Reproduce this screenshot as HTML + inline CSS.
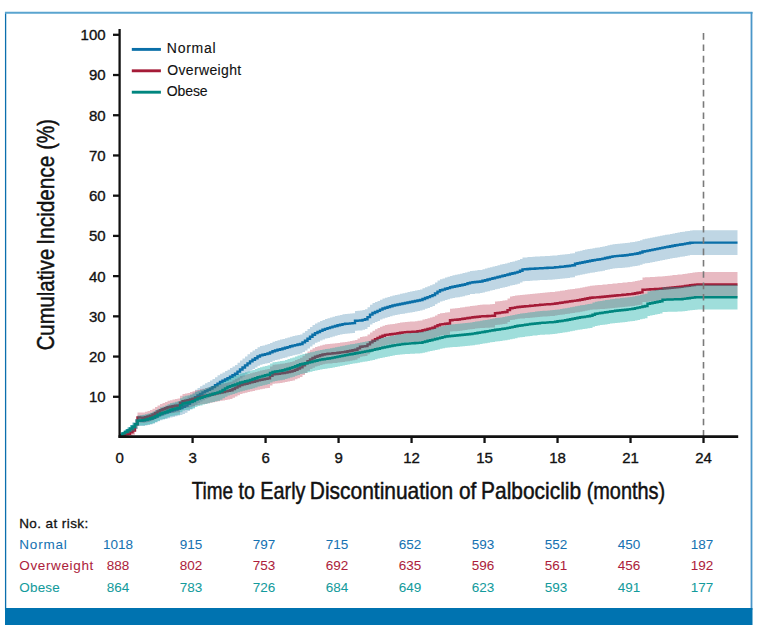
<!DOCTYPE html>
<html><head><meta charset="utf-8"><style>
html,body{margin:0;padding:0;background:#fff;}
body{width:768px;height:638px;overflow:hidden;position:relative;}
svg{position:absolute;left:0;top:0;}
text{font-family:"Liberation Sans",sans-serif;stroke:currentColor;}

</style></head><body>
<svg width="768" height="638" viewBox="0 0 768 638">
<rect x="0" y="0" width="768" height="638" fill="#fff"/>
<line x1="5.6" y1="12" x2="5.6" y2="610" stroke="#0b6fae" stroke-width="1.3"/>
<line x1="5" y1="12.8" x2="752.5" y2="12.8" stroke="#5aa4cf" stroke-width="1.9"/>
<line x1="751.5" y1="12" x2="751.5" y2="610" stroke="#4a96c9" stroke-width="1.8"/>
<rect x="5" y="608" width="747.5" height="17" fill="#0073b0"/>
<g>
<path class="band" d="M120.0,436.0 L122.5,436.0 L122.5,432.1 L125.0,432.1 L125.0,429.5 L127.5,429.5 L127.5,427.4 L130.0,427.4 L130.0,425.1 L132.5,425.1 L132.5,422.5 L135.0,422.5 L135.0,419.3 L137.5,419.3 L137.5,415.8 L140.0,415.8 L140.0,415.5 L142.5,415.5 L142.5,415.3 L145.0,415.3 L145.0,414.7 L147.5,414.7 L147.5,413.9 L150.0,413.9 L150.0,413.1 L152.5,413.1 L152.5,412.0 L155.0,412.0 L155.0,410.6 L157.5,410.6 L157.5,409.2 L160.0,409.2 L160.0,408.1 L162.5,408.1 L162.5,407.2 L165.0,407.2 L165.0,406.3 L167.5,406.3 L167.5,405.4 L170.0,405.4 L170.0,404.5 L172.5,404.5 L172.5,403.6 L175.0,403.6 L175.0,402.7 L177.5,402.7 L177.5,401.9 L180.0,401.9 L180.0,401.0 L182.5,401.0 L182.5,399.7 L185.0,399.7 L185.0,398.5 L187.5,398.5 L187.5,396.6 L190.0,396.6 L190.0,394.7 L192.5,394.7 L192.5,392.5 L195.0,392.5 L195.0,389.8 L197.5,389.8 L197.5,387.9 L200.0,387.9 L200.0,386.3 L202.5,386.3 L202.5,384.7 L205.0,384.7 L205.0,383.3 L207.5,383.3 L207.5,382.0 L210.0,382.0 L210.0,380.6 L212.5,380.6 L212.5,379.0 L215.0,379.0 L215.0,377.2 L217.5,377.2 L217.5,375.3 L220.0,375.3 L220.0,373.7 L222.5,373.7 L222.5,372.4 L225.0,372.4 L225.0,371.1 L227.5,371.1 L227.5,369.7 L230.0,369.7 L230.0,368.1 L232.5,368.1 L232.5,366.6 L235.0,366.6 L235.0,364.9 L237.5,364.9 L237.5,362.8 L240.0,362.8 L240.0,360.6 L242.5,360.6 L242.5,358.5 L245.0,358.5 L245.0,356.4 L247.5,356.4 L247.5,354.3 L250.0,354.3 L250.0,352.3 L252.5,352.3 L252.5,350.6 L255.0,350.6 L255.0,349.0 L257.5,349.0 L257.5,347.3 L260.0,347.3 L260.0,346.1 L262.5,346.1 L262.5,345.4 L265.0,345.4 L265.0,344.7 L267.5,344.7 L267.5,344.0 L270.0,344.0 L270.0,342.9 L272.5,342.9 L272.5,341.7 L275.0,341.7 L275.0,340.9 L277.5,340.9 L277.5,340.3 L280.0,340.3 L280.0,339.6 L282.5,339.6 L282.5,339.0 L285.0,339.0 L285.0,338.2 L287.5,338.2 L287.5,337.5 L290.0,337.5 L290.0,336.7 L292.5,336.7 L292.5,336.0 L295.0,336.0 L295.0,335.5 L297.5,335.5 L297.5,334.9 L300.0,334.9 L300.0,334.4 L302.5,334.4 L302.5,332.7 L305.0,332.7 L305.0,331.1 L307.5,331.1 L307.5,329.1 L310.0,329.1 L310.0,327.1 L312.5,327.1 L312.5,325.1 L315.0,325.1 L315.0,323.4 L317.5,323.4 L317.5,322.2 L320.0,322.2 L320.0,321.1 L322.5,321.1 L322.5,320.0 L325.0,320.0 L325.0,319.1 L327.5,319.1 L327.5,318.3 L330.0,318.3 L330.0,317.6 L332.5,317.6 L332.5,316.8 L335.0,316.8 L335.0,316.1 L337.5,316.1 L337.5,315.5 L340.0,315.5 L340.0,314.9 L342.5,314.9 L342.5,314.2 L345.0,314.2 L345.0,314.0 L347.5,314.0 L347.5,313.7 L350.0,313.7 L350.0,313.5 L352.5,313.5 L352.5,313.2 L355.0,313.2 L355.0,310.9 L357.5,310.9 L357.5,310.7 L360.0,310.7 L360.0,310.6 L362.5,310.6 L362.5,310.0 L365.0,310.0 L365.0,309.3 L367.5,309.3 L367.5,307.2 L370.0,307.2 L370.0,304.7 L372.5,304.7 L372.5,303.1 L375.0,303.1 L375.0,302.1 L377.5,302.1 L377.5,300.9 L380.0,300.9 L380.0,299.7 L382.5,299.7 L382.5,298.6 L385.0,298.6 L385.0,297.8 L387.5,297.8 L387.5,297.0 L390.0,297.0 L390.0,296.3 L392.5,296.3 L392.5,295.5 L395.0,295.5 L395.0,294.9 L397.5,294.9 L397.5,294.4 L400.0,294.4 L400.0,293.8 L402.5,293.8 L402.5,293.3 L405.0,293.3 L405.0,292.7 L407.5,292.7 L407.5,292.1 L410.0,292.1 L410.0,291.6 L412.5,291.6 L412.5,291.0 L415.0,291.0 L415.0,290.5 L417.5,290.5 L417.5,289.9 L420.0,289.9 L420.0,289.4 L422.5,289.4 L422.5,288.3 L425.0,288.3 L425.0,287.3 L427.5,287.3 L427.5,286.3 L430.0,286.3 L430.0,285.2 L432.5,285.2 L432.5,284.2 L435.0,284.2 L435.0,282.4 L437.5,282.4 L437.5,280.6 L440.0,280.6 L440.0,279.2 L442.5,279.2 L442.5,278.4 L445.0,278.4 L445.0,277.6 L447.5,277.6 L447.5,276.8 L450.0,276.8 L450.0,276.0 L452.5,276.0 L452.5,275.3 L455.0,275.3 L455.0,274.7 L457.5,274.7 L457.5,274.2 L460.0,274.2 L460.0,273.7 L462.5,273.7 L462.5,273.1 L465.0,273.1 L465.0,272.5 L467.5,272.5 L467.5,271.8 L470.0,271.8 L470.0,271.0 L472.5,271.0 L472.5,270.7 L475.0,270.7 L475.0,270.4 L477.5,270.4 L477.5,270.1 L480.0,270.1 L480.0,269.9 L482.5,269.9 L482.5,269.2 L485.0,269.2 L485.0,268.5 L487.5,268.5 L487.5,267.8 L490.0,267.8 L490.0,267.2 L492.5,267.2 L492.5,266.5 L495.0,266.5 L495.0,265.9 L497.5,265.9 L497.5,265.2 L500.0,265.2 L500.0,264.6 L502.5,264.6 L502.5,264.0 L505.0,264.0 L505.0,263.4 L507.5,263.4 L507.5,262.7 L510.0,262.7 L510.0,262.0 L512.5,262.0 L512.5,261.4 L515.0,261.4 L515.0,260.7 L517.5,260.7 L517.5,260.1 L520.0,260.1 L520.0,258.9 L522.5,258.9 L522.5,257.6 L525.0,257.6 L525.0,257.4 L527.5,257.4 L527.5,257.1 L530.0,257.1 L530.0,256.9 L532.5,256.9 L532.5,256.8 L535.0,256.8 L535.0,256.6 L537.5,256.6 L537.5,256.5 L540.0,256.5 L540.0,256.3 L542.5,256.3 L542.5,256.2 L545.0,256.2 L545.0,256.0 L547.5,256.0 L547.5,255.9 L550.0,255.9 L550.0,255.8 L552.5,255.8 L552.5,255.6 L555.0,255.6 L555.0,255.4 L557.5,255.4 L557.5,255.1 L560.0,255.1 L560.0,254.8 L562.5,254.8 L562.5,254.6 L565.0,254.6 L565.0,254.3 L567.5,254.3 L567.5,254.0 L570.0,254.0 L570.0,253.6 L572.5,253.6 L572.5,253.3 L575.0,253.3 L575.0,251.8 L577.5,251.8 L577.5,251.2 L580.0,251.2 L580.0,250.7 L582.5,250.7 L582.5,250.1 L585.0,250.1 L585.0,249.6 L587.5,249.6 L587.5,249.1 L590.0,249.1 L590.0,248.7 L592.5,248.7 L592.5,248.2 L595.0,248.2 L595.0,247.8 L597.5,247.8 L597.5,247.4 L600.0,247.4 L600.0,247.0 L602.5,247.0 L602.5,246.4 L605.0,246.4 L605.0,245.9 L607.5,245.9 L607.5,245.3 L610.0,245.3 L610.0,244.8 L612.5,244.8 L612.5,244.2 L615.0,244.2 L615.0,243.9 L617.5,243.9 L617.5,243.7 L620.0,243.7 L620.0,243.5 L622.5,243.5 L622.5,243.3 L625.0,243.3 L625.0,243.1 L627.5,243.1 L627.5,242.7 L630.0,242.7 L630.0,242.3 L632.5,242.3 L632.5,241.9 L635.0,241.9 L635.0,241.4 L637.5,241.4 L637.5,241.0 L640.0,241.0 L640.0,240.3 L642.5,240.3 L642.5,239.3 L645.0,239.3 L645.0,238.8 L647.5,238.8 L647.5,238.3 L650.0,238.3 L650.0,237.8 L652.5,237.8 L652.5,237.3 L655.0,237.3 L655.0,236.8 L657.5,236.8 L657.5,236.3 L660.0,236.3 L660.0,235.8 L662.5,235.8 L662.5,235.3 L665.0,235.3 L665.0,234.8 L667.5,234.8 L667.5,234.4 L670.0,234.4 L670.0,233.9 L672.5,233.9 L672.5,233.5 L675.0,233.5 L675.0,233.0 L677.5,233.0 L677.5,232.6 L680.0,232.6 L680.0,232.1 L682.5,232.1 L682.5,231.7 L685.0,231.7 L685.0,231.3 L687.5,231.3 L687.5,230.9 L690.0,230.9 L690.0,230.4 L692.5,230.4 L692.5,230.3 L695.0,230.3 L695.0,230.2 L697.5,230.2 L697.5,230.2 L700.0,230.2 L700.0,230.2 L702.5,230.2 L702.5,230.2 L705.0,230.2 L705.0,230.2 L707.5,230.2 L707.5,230.2 L710.0,230.2 L710.0,230.2 L712.5,230.2 L712.5,230.2 L715.0,230.2 L715.0,230.2 L717.5,230.2 L717.5,230.2 L720.0,230.2 L720.0,230.2 L722.5,230.2 L722.5,230.2 L725.0,230.2 L725.0,230.2 L727.5,230.2 L727.5,230.2 L730.0,230.2 L730.0,230.2 L732.5,230.2 L732.5,230.2 L735.0,230.2 L735.0,230.2 L737.5,230.2 L737.5,230.2 L737.5,255.0 L737.5,255.0 L735.0,255.0 L735.0,255.0 L732.5,255.0 L732.5,255.0 L730.0,255.0 L730.0,255.0 L727.5,255.0 L727.5,255.0 L725.0,255.0 L725.0,255.0 L722.5,255.0 L722.5,255.0 L720.0,255.0 L720.0,255.0 L717.5,255.0 L717.5,255.0 L715.0,255.0 L715.0,255.0 L712.5,255.0 L712.5,255.0 L710.0,255.0 L710.0,255.0 L707.5,255.0 L707.5,255.0 L705.0,255.0 L705.0,255.0 L702.5,255.0 L702.5,255.0 L700.0,255.0 L700.0,255.0 L697.5,255.0 L697.5,255.0 L695.0,255.0 L695.0,254.9 L692.5,254.9 L692.5,255.1 L690.0,255.1 L690.0,255.6 L687.5,255.6 L687.5,256.0 L685.0,256.0 L685.0,256.4 L682.5,256.4 L682.5,256.8 L680.0,256.8 L680.0,257.2 L677.5,257.2 L677.5,257.7 L675.0,257.7 L675.0,258.1 L672.5,258.1 L672.5,258.6 L670.0,258.6 L670.0,259.0 L667.5,259.0 L667.5,259.4 L665.0,259.4 L665.0,259.9 L662.5,259.9 L662.5,260.4 L660.0,260.4 L660.0,260.9 L657.5,260.9 L657.5,261.4 L655.0,261.4 L655.0,261.9 L652.5,261.9 L652.5,262.4 L650.0,262.4 L650.0,262.9 L647.5,262.9 L647.5,263.3 L645.0,263.3 L645.0,263.8 L642.5,263.8 L642.5,264.8 L640.0,264.8 L640.0,265.5 L637.5,265.5 L637.5,265.9 L635.0,265.9 L635.0,266.3 L632.5,266.3 L632.5,266.7 L630.0,266.7 L630.0,267.2 L627.5,267.2 L627.5,267.5 L625.0,267.5 L625.0,267.7 L622.5,267.7 L622.5,267.9 L620.0,267.9 L620.0,268.1 L617.5,268.1 L617.5,268.3 L615.0,268.3 L615.0,268.5 L612.5,268.5 L612.5,269.1 L610.0,269.1 L610.0,269.6 L607.5,269.6 L607.5,270.1 L605.0,270.1 L605.0,270.7 L602.5,270.7 L602.5,271.2 L600.0,271.2 L600.0,271.6 L597.5,271.6 L597.5,272.0 L595.0,272.0 L595.0,272.4 L592.5,272.4 L592.5,272.8 L590.0,272.8 L590.0,273.3 L587.5,273.3 L587.5,273.8 L585.0,273.8 L585.0,274.3 L582.5,274.3 L582.5,274.8 L580.0,274.8 L580.0,275.3 L577.5,275.3 L577.5,275.8 L575.0,275.8 L575.0,277.3 L572.5,277.3 L572.5,277.6 L570.0,277.6 L570.0,278.0 L567.5,278.0 L567.5,278.3 L565.0,278.3 L565.0,278.6 L562.5,278.6 L562.5,278.8 L560.0,278.8 L560.0,279.1 L557.5,279.1 L557.5,279.3 L555.0,279.3 L555.0,279.6 L552.5,279.6 L552.5,279.7 L550.0,279.7 L550.0,279.8 L547.5,279.8 L547.5,279.9 L545.0,279.9 L545.0,280.0 L542.5,280.0 L542.5,280.1 L540.0,280.1 L540.0,280.3 L537.5,280.3 L537.5,280.4 L535.0,280.4 L535.0,280.5 L532.5,280.5 L532.5,280.7 L530.0,280.7 L530.0,280.9 L527.5,280.9 L527.5,281.1 L525.0,281.1 L525.0,281.3 L522.5,281.3 L522.5,282.5 L520.0,282.5 L520.0,283.8 L517.5,283.8 L517.5,284.4 L515.0,284.4 L515.0,285.0 L512.5,285.0 L512.5,285.6 L510.0,285.6 L510.0,286.3 L507.5,286.3 L507.5,286.9 L505.0,286.9 L505.0,287.5 L502.5,287.5 L502.5,288.1 L500.0,288.1 L500.0,288.7 L497.5,288.7 L497.5,289.3 L495.0,289.3 L495.0,289.9 L492.5,289.9 L492.5,290.5 L490.0,290.5 L490.0,291.2 L487.5,291.2 L487.5,291.8 L485.0,291.8 L485.0,292.5 L482.5,292.5 L482.5,293.1 L480.0,293.1 L480.0,293.4 L477.5,293.4 L477.5,293.6 L475.0,293.6 L475.0,293.9 L472.5,293.9 L472.5,294.1 L470.0,294.1 L470.0,294.9 L467.5,294.9 L467.5,295.6 L465.0,295.6 L465.0,296.2 L462.5,296.2 L462.5,296.7 L460.0,296.7 L460.0,297.2 L457.5,297.2 L457.5,297.6 L455.0,297.6 L455.0,298.1 L452.5,298.1 L452.5,298.6 L450.0,298.6 L450.0,299.3 L447.5,299.3 L447.5,300.0 L445.0,300.0 L445.0,300.7 L442.5,300.7 L442.5,301.4 L440.0,301.4 L440.0,302.7 L437.5,302.7 L437.5,304.3 L435.0,304.3 L435.0,306.0 L432.5,306.0 L432.5,306.9 L430.0,306.9 L430.0,307.9 L427.5,307.9 L427.5,308.8 L425.0,308.8 L425.0,309.7 L422.5,309.7 L422.5,310.6 L420.0,310.6 L420.0,311.1 L417.5,311.1 L417.5,311.5 L415.0,311.5 L415.0,311.9 L412.5,311.9 L412.5,312.4 L410.0,312.4 L410.0,312.8 L407.5,312.8 L407.5,313.3 L405.0,313.3 L405.0,313.7 L402.5,313.7 L402.5,314.1 L400.0,314.1 L400.0,314.6 L397.5,314.6 L397.5,315.0 L395.0,315.0 L395.0,315.5 L392.5,315.5 L392.5,316.3 L390.0,316.3 L390.0,317.0 L387.5,317.0 L387.5,317.7 L385.0,317.7 L385.0,318.5 L382.5,318.5 L382.5,319.6 L380.0,319.6 L380.0,320.9 L377.5,320.9 L377.5,321.9 L375.0,321.9 L375.0,322.9 L372.5,322.9 L372.5,324.5 L370.0,324.5 L370.0,327.0 L367.5,327.0 L367.5,329.1 L365.0,329.1 L365.0,329.8 L362.5,329.8 L362.5,330.4 L360.0,330.4 L360.0,330.5 L357.5,330.5 L357.5,330.7 L355.0,330.7 L355.0,333.0 L352.5,333.0 L352.5,333.2 L350.0,333.2 L350.0,333.4 L347.5,333.4 L347.5,333.7 L345.0,333.7 L345.0,333.9 L342.5,333.9 L342.5,334.5 L340.0,334.5 L340.0,335.1 L337.5,335.1 L337.5,335.8 L335.0,335.8 L335.0,336.4 L332.5,336.4 L332.5,337.2 L330.0,337.2 L330.0,337.9 L327.5,337.9 L327.5,338.6 L325.0,338.6 L325.0,339.5 L322.5,339.5 L322.5,340.6 L320.0,340.6 L320.0,341.7 L317.5,341.7 L317.5,342.8 L315.0,342.8 L315.0,344.5 L312.5,344.5 L312.5,346.5 L310.0,346.5 L310.0,348.5 L307.5,348.5 L307.5,350.4 L305.0,350.4 L305.0,352.1 L302.5,352.1 L302.5,353.6 L300.0,353.6 L300.0,354.2 L297.5,354.2 L297.5,354.7 L295.0,354.7 L295.0,355.2 L292.5,355.2 L292.5,355.9 L290.0,355.9 L290.0,356.6 L287.5,356.6 L287.5,357.4 L285.0,357.4 L285.0,358.1 L282.5,358.1 L282.5,358.7 L280.0,358.7 L280.0,359.4 L277.5,359.4 L277.5,360.0 L275.0,360.0 L275.0,360.7 L272.5,360.7 L272.5,361.9 L270.0,361.9 L270.0,362.9 L267.5,362.9 L267.5,363.5 L265.0,363.5 L265.0,364.1 L262.5,364.1 L262.5,364.7 L260.0,364.7 L260.0,365.8 L257.5,365.8 L257.5,367.4 L255.0,367.4 L255.0,368.9 L252.5,368.9 L252.5,370.5 L250.0,370.5 L250.0,372.4 L247.5,372.4 L247.5,374.4 L245.0,374.4 L245.0,376.4 L242.5,376.4 L242.5,378.4 L240.0,378.4 L240.0,380.5 L237.5,380.5 L237.5,382.5 L235.0,382.5 L235.0,384.0 L232.5,384.0 L232.5,385.4 L230.0,385.4 L230.0,386.8 L227.5,386.8 L227.5,388.0 L225.0,388.0 L225.0,389.2 L222.5,389.2 L222.5,390.3 L220.0,390.3 L220.0,391.8 L217.5,391.8 L217.5,393.5 L215.0,393.5 L215.0,395.2 L212.5,395.2 L212.5,396.6 L210.0,396.6 L210.0,397.8 L207.5,397.8 L207.5,398.9 L205.0,398.9 L205.0,400.2 L202.5,400.2 L202.5,401.6 L200.0,401.6 L200.0,403.0 L197.5,403.0 L197.5,404.7 L195.0,404.7 L195.0,407.4 L192.5,407.4 L192.5,409.3 L190.0,409.3 L190.0,411.1 L187.5,411.1 L187.5,412.8 L185.0,412.8 L185.0,413.9 L182.5,413.9 L182.5,415.0 L180.0,415.0 L180.0,415.6 L177.5,415.6 L177.5,416.3 L175.0,416.3 L175.0,417.0 L172.5,417.0 L172.5,417.6 L170.0,417.6 L170.0,418.3 L167.5,418.3 L167.5,419.0 L165.0,419.0 L165.0,419.6 L162.5,419.6 L162.5,420.3 L160.0,420.3 L160.0,421.3 L157.5,421.3 L157.5,422.4 L155.0,422.4 L155.0,423.5 L152.5,423.5 L152.5,424.4 L150.0,424.4 L150.0,425.0 L147.5,425.0 L147.5,425.5 L145.0,425.5 L145.0,425.9 L142.5,425.9 L142.5,425.9 L140.0,425.9 L140.0,426.0 L137.5,426.0 L137.5,428.9 L135.0,428.9 L135.0,430.9 L132.5,430.9 L132.5,432.3 L130.0,432.3 L130.0,433.5 L127.5,433.5 L127.5,434.4 L125.0,434.4 L125.0,435.5 L122.5,435.5 L122.5,436.0 L120.0,436.0 Z" fill="rgba(42,118,165,0.3)"/>
<path d="M120.0,436.0 H122.5 V433.8 H125.0 V431.9 H127.5 V430.5 H130.0 V428.7 H132.5 V426.7 H135.0 V424.1 H137.5 V420.9 H140.0 V420.7 H142.5 V420.6 H145.0 V420.1 H147.5 V419.4 H150.0 V418.8 H152.5 V417.8 H155.0 V416.5 H157.5 V415.2 H160.0 V414.2 H162.5 V413.4 H165.0 V412.6 H167.5 V411.8 H170.0 V411.1 H172.5 V410.3 H175.0 V409.5 H177.5 V408.8 H180.0 V408.0 H182.5 V406.8 H185.0 V405.6 H187.5 V403.9 H190.0 V402.0 H192.5 V400.0 H195.0 V397.2 H197.5 V395.5 H200.0 V393.9 H202.5 V392.4 H205.0 V391.1 H207.5 V389.9 H210.0 V388.6 H212.5 V387.1 H215.0 V385.3 H217.5 V383.6 H220.0 V382.0 H222.5 V380.8 H225.0 V379.5 H227.5 V378.2 H230.0 V376.8 H232.5 V375.3 H235.0 V373.7 H237.5 V371.6 H240.0 V369.5 H242.5 V367.5 H245.0 V365.4 H247.5 V363.4 H250.0 V361.4 H252.5 V359.8 H255.0 V358.2 H257.5 V356.5 H260.0 V355.4 H262.5 V354.8 H265.0 V354.1 H267.5 V353.5 H270.0 V352.4 H272.5 V351.2 H275.0 V350.5 H277.5 V349.8 H280.0 V349.2 H282.5 V348.5 H285.0 V347.8 H287.5 V347.1 H290.0 V346.3 H292.5 V345.6 H295.0 V345.1 H297.5 V344.5 H300.0 V344.0 H302.5 V342.4 H305.0 V340.8 H307.5 V338.8 H310.0 V336.8 H312.5 V334.8 H315.0 V333.1 H317.5 V332.0 H320.0 V330.9 H322.5 V329.7 H325.0 V328.9 H327.5 V328.1 H330.0 V327.4 H332.5 V326.6 H335.0 V326.0 H337.5 V325.3 H340.0 V324.7 H342.5 V324.1 H345.0 V323.8 H347.5 V323.6 H350.0 V323.4 H352.5 V323.1 H355.0 V320.8 H357.5 V320.6 H360.0 V320.5 H362.5 V319.9 H365.0 V319.2 H367.5 V317.1 H370.0 V314.6 H372.5 V313.0 H375.0 V312.0 H377.5 V310.9 H380.0 V309.6 H382.5 V308.5 H385.0 V307.8 H387.5 V307.0 H390.0 V306.3 H392.5 V305.5 H395.0 V305.0 H397.5 V304.5 H400.0 V304.0 H402.5 V303.5 H405.0 V303.0 H407.5 V302.5 H410.0 V302.0 H412.5 V301.5 H415.0 V301.0 H417.5 V300.5 H420.0 V300.0 H422.5 V299.0 H425.0 V298.0 H427.5 V297.1 H430.0 V296.1 H432.5 V295.1 H435.0 V293.4 H437.5 V291.6 H440.0 V290.3 H442.5 V289.6 H445.0 V288.8 H447.5 V288.1 H450.0 V287.3 H452.5 V286.7 H455.0 V286.2 H457.5 V285.7 H460.0 V285.2 H462.5 V284.7 H465.0 V284.1 H467.5 V283.3 H470.0 V282.6 H472.5 V282.3 H475.0 V282.0 H477.5 V281.8 H480.0 V281.5 H482.5 V280.8 H485.0 V280.2 H487.5 V279.5 H490.0 V278.9 H492.5 V278.2 H495.0 V277.6 H497.5 V277.0 H500.0 V276.4 H502.5 V275.7 H505.0 V275.1 H507.5 V274.5 H510.0 V273.8 H512.5 V273.2 H515.0 V272.6 H517.5 V271.9 H520.0 V270.7 H522.5 V269.4 H525.0 V269.2 H527.5 V269.0 H530.0 V268.8 H532.5 V268.7 H535.0 V268.5 H537.5 V268.4 H540.0 V268.2 H542.5 V268.1 H545.0 V268.0 H547.5 V267.8 H550.0 V267.7 H552.5 V267.6 H555.0 V267.3 H557.5 V267.1 H560.0 V266.8 H562.5 V266.6 H565.0 V266.3 H567.5 V266.0 H570.0 V265.6 H572.5 V265.3 H575.0 V263.8 H577.5 V263.3 H580.0 V262.7 H582.5 V262.2 H585.0 V261.7 H587.5 V261.2 H590.0 V260.7 H592.5 V260.3 H595.0 V259.9 H597.5 V259.5 H600.0 V259.1 H602.5 V258.6 H605.0 V258.0 H607.5 V257.5 H610.0 V256.9 H612.5 V256.4 H615.0 V256.1 H617.5 V255.9 H620.0 V255.7 H622.5 V255.5 H625.0 V255.3 H627.5 V254.9 H630.0 V254.5 H632.5 V254.1 H635.0 V253.7 H637.5 V253.3 H640.0 V252.5 H642.5 V251.5 H645.0 V251.1 H647.5 V250.6 H650.0 V250.1 H652.5 V249.6 H655.0 V249.1 H657.5 V248.6 H660.0 V248.1 H662.5 V247.6 H665.0 V247.1 H667.5 V246.7 H670.0 V246.2 H672.5 V245.8 H675.0 V245.3 H677.5 V244.9 H680.0 V244.5 H682.5 V244.1 H685.0 V243.6 H687.5 V243.2 H690.0 V242.8 H692.5 V242.6 H695.0 V242.6 H697.5 V242.6 H700.0 V242.6 H702.5 V242.6 H705.0 V242.6 H707.5 V242.6 H710.0 V242.6 H712.5 V242.6 H715.0 V242.6 H717.5 V242.6 H720.0 V242.6 H722.5 V242.6 H725.0 V242.6 H727.5 V242.6 H730.0 V242.6 H732.5 V242.6 H735.0 V242.6 H737.5 V242.6" fill="none" stroke="#0a6fa8" stroke-width="2.4" stroke-linejoin="miter"/>
<path class="band" d="M120.0,436.0 L122.5,436.0 L122.5,433.6 L125.0,433.6 L125.0,432.0 L127.5,432.0 L127.5,430.6 L130.0,430.6 L130.0,428.7 L132.5,428.7 L132.5,426.3 L135.0,426.3 L135.0,419.6 L137.5,419.6 L137.5,412.5 L140.0,412.5 L140.0,412.4 L142.5,412.4 L142.5,412.4 L145.0,412.4 L145.0,411.8 L147.5,411.8 L147.5,410.9 L150.0,410.9 L150.0,410.0 L152.5,410.0 L152.5,408.8 L155.0,408.8 L155.0,407.1 L157.5,407.1 L157.5,405.5 L160.0,405.5 L160.0,404.1 L162.5,404.1 L162.5,403.0 L165.0,403.0 L165.0,401.9 L167.5,401.9 L167.5,400.8 L170.0,400.8 L170.0,400.2 L172.5,400.2 L172.5,399.6 L175.0,399.6 L175.0,399.0 L177.5,399.0 L177.5,398.5 L180.0,398.5 L180.0,395.8 L182.5,395.8 L182.5,394.1 L185.0,394.1 L185.0,393.5 L187.5,393.5 L187.5,392.9 L190.0,392.9 L190.0,392.1 L192.5,392.1 L192.5,391.2 L195.0,391.2 L195.0,390.6 L197.5,390.6 L197.5,389.9 L200.0,389.9 L200.0,389.3 L202.5,389.3 L202.5,388.7 L205.0,388.7 L205.0,388.0 L207.5,388.0 L207.5,387.4 L210.0,387.4 L210.0,386.8 L212.5,386.8 L212.5,386.1 L215.0,386.1 L215.0,385.5 L217.5,385.5 L217.5,384.8 L220.0,384.8 L220.0,384.2 L222.5,384.2 L222.5,383.6 L225.0,383.6 L225.0,382.9 L227.5,382.9 L227.5,382.3 L230.0,382.3 L230.0,381.7 L232.5,381.7 L232.5,380.3 L235.0,380.3 L235.0,378.8 L237.5,378.8 L237.5,377.5 L240.0,377.5 L240.0,376.1 L242.5,376.1 L242.5,375.4 L245.0,375.4 L245.0,374.7 L247.5,374.7 L247.5,374.0 L250.0,374.0 L250.0,373.2 L252.5,373.2 L252.5,372.6 L255.0,372.6 L255.0,371.9 L257.5,371.9 L257.5,371.2 L260.0,371.2 L260.0,370.6 L262.5,370.6 L262.5,370.0 L265.0,370.0 L265.0,369.5 L267.5,369.5 L267.5,369.0 L270.0,369.0 L270.0,366.4 L272.5,366.4 L272.5,364.8 L275.0,364.8 L275.0,364.5 L277.5,364.5 L277.5,364.2 L280.0,364.2 L280.0,363.8 L282.5,363.8 L282.5,363.5 L285.0,363.5 L285.0,363.0 L287.5,363.0 L287.5,362.5 L290.0,362.5 L290.0,361.9 L292.5,361.9 L292.5,361.2 L295.0,361.2 L295.0,360.1 L297.5,360.1 L297.5,358.9 L300.0,358.9 L300.0,357.8 L302.5,357.8 L302.5,355.7 L305.0,355.7 L305.0,353.7 L307.5,353.7 L307.5,351.6 L310.0,351.6 L310.0,349.7 L312.5,349.7 L312.5,348.2 L315.0,348.2 L315.0,347.0 L317.5,347.0 L317.5,346.2 L320.0,346.2 L320.0,345.5 L322.5,345.5 L322.5,344.7 L325.0,344.7 L325.0,344.3 L327.5,344.3 L327.5,344.0 L330.0,344.0 L330.0,343.8 L332.5,343.8 L332.5,343.5 L335.0,343.5 L335.0,343.2 L337.5,343.2 L337.5,343.0 L340.0,343.0 L340.0,342.6 L342.5,342.6 L342.5,342.2 L345.0,342.2 L345.0,341.9 L347.5,341.9 L347.5,341.4 L350.0,341.4 L350.0,340.9 L352.5,340.9 L352.5,340.4 L355.0,340.4 L355.0,339.9 L357.5,339.9 L357.5,338.5 L360.0,338.5 L360.0,336.9 L362.5,336.9 L362.5,336.5 L365.0,336.5 L365.0,336.2 L367.5,336.2 L367.5,334.5 L370.0,334.5 L370.0,332.5 L372.5,332.5 L372.5,330.8 L375.0,330.8 L375.0,329.3 L377.5,329.3 L377.5,327.9 L380.0,327.9 L380.0,326.8 L382.5,326.8 L382.5,325.7 L385.0,325.7 L385.0,324.9 L387.5,324.9 L387.5,324.6 L390.0,324.6 L390.0,324.3 L392.5,324.3 L392.5,324.0 L395.0,324.0 L395.0,323.5 L397.5,323.5 L397.5,323.1 L400.0,323.1 L400.0,322.6 L402.5,322.6 L402.5,322.2 L405.0,322.2 L405.0,321.9 L407.5,321.9 L407.5,321.7 L410.0,321.7 L410.0,321.5 L412.5,321.5 L412.5,321.4 L415.0,321.4 L415.0,321.2 L417.5,321.2 L417.5,320.8 L420.0,320.8 L420.0,320.4 L422.5,320.4 L422.5,319.6 L425.0,319.6 L425.0,318.9 L427.5,318.9 L427.5,318.2 L430.0,318.2 L430.0,317.5 L432.5,317.5 L432.5,316.8 L435.0,316.8 L435.0,315.4 L437.5,315.4 L437.5,314.1 L440.0,314.1 L440.0,313.3 L442.5,313.3 L442.5,312.9 L445.0,312.9 L445.0,312.5 L447.5,312.5 L447.5,312.2 L450.0,312.2 L450.0,308.8 L452.5,308.8 L452.5,308.5 L455.0,308.5 L455.0,308.3 L457.5,308.3 L457.5,308.0 L460.0,308.0 L460.0,307.6 L462.5,307.6 L462.5,307.2 L465.0,307.2 L465.0,306.8 L467.5,306.8 L467.5,306.4 L470.0,306.4 L470.0,306.1 L472.5,306.1 L472.5,305.7 L475.0,305.7 L475.0,305.4 L477.5,305.4 L477.5,305.1 L480.0,305.1 L480.0,304.8 L482.5,304.8 L482.5,304.6 L485.0,304.6 L485.0,304.5 L487.5,304.5 L487.5,304.4 L490.0,304.4 L490.0,304.2 L492.5,304.2 L492.5,304.1 L495.0,304.1 L495.0,301.6 L497.5,301.6 L497.5,301.2 L500.0,301.2 L500.0,300.9 L502.5,300.9 L502.5,300.6 L505.0,300.6 L505.0,300.2 L507.5,300.2 L507.5,298.4 L510.0,298.4 L510.0,296.5 L512.5,296.5 L512.5,296.1 L515.0,296.1 L515.0,295.6 L517.5,295.6 L517.5,295.2 L520.0,295.2 L520.0,294.9 L522.5,294.9 L522.5,294.7 L525.0,294.7 L525.0,294.4 L527.5,294.4 L527.5,294.2 L530.0,294.2 L530.0,293.9 L532.5,293.9 L532.5,293.7 L535.0,293.7 L535.0,293.4 L537.5,293.4 L537.5,293.2 L540.0,293.2 L540.0,292.9 L542.5,292.9 L542.5,292.7 L545.0,292.7 L545.0,292.5 L547.5,292.5 L547.5,292.3 L550.0,292.3 L550.0,292.1 L552.5,292.1 L552.5,291.9 L555.0,291.9 L555.0,291.6 L557.5,291.6 L557.5,291.2 L560.0,291.2 L560.0,290.8 L562.5,290.8 L562.5,290.4 L565.0,290.4 L565.0,290.0 L567.5,290.0 L567.5,289.6 L570.0,289.6 L570.0,289.3 L572.5,289.3 L572.5,288.9 L575.0,288.9 L575.0,288.5 L577.5,288.5 L577.5,288.2 L580.0,288.2 L580.0,287.7 L582.5,287.7 L582.5,287.2 L585.0,287.2 L585.0,286.7 L587.5,286.7 L587.5,286.2 L590.0,286.2 L590.0,285.7 L592.5,285.7 L592.5,285.4 L595.0,285.4 L595.0,285.3 L597.5,285.3 L597.5,285.1 L600.0,285.1 L600.0,284.9 L602.5,284.9 L602.5,284.6 L605.0,284.6 L605.0,284.4 L607.5,284.4 L607.5,284.1 L610.0,284.1 L610.0,283.9 L612.5,283.9 L612.5,283.6 L615.0,283.6 L615.0,283.4 L617.5,283.4 L617.5,283.1 L620.0,283.1 L620.0,282.9 L622.5,282.9 L622.5,282.6 L625.0,282.6 L625.0,282.4 L627.5,282.4 L627.5,282.1 L630.0,282.1 L630.0,281.9 L632.5,281.9 L632.5,281.5 L635.0,281.5 L635.0,281.0 L637.5,281.0 L637.5,280.6 L640.0,280.6 L640.0,280.1 L642.5,280.1 L642.5,277.5 L645.0,277.5 L645.0,277.3 L647.5,277.3 L647.5,277.2 L650.0,277.2 L650.0,277.0 L652.5,277.0 L652.5,276.9 L655.0,276.9 L655.0,276.7 L657.5,276.7 L657.5,276.6 L660.0,276.6 L660.0,276.4 L662.5,276.4 L662.5,276.2 L665.0,276.2 L665.0,275.9 L667.5,275.9 L667.5,275.7 L670.0,275.7 L670.0,275.4 L672.5,275.4 L672.5,275.1 L675.0,275.1 L675.0,274.9 L677.5,274.9 L677.5,274.6 L680.0,274.6 L680.0,274.4 L682.5,274.4 L682.5,274.0 L685.0,274.0 L685.0,273.7 L687.5,273.7 L687.5,273.3 L690.0,273.3 L690.0,273.0 L692.5,273.0 L692.5,272.6 L695.0,272.6 L695.0,272.3 L697.5,272.3 L697.5,272.1 L700.0,272.1 L700.0,272.1 L702.5,272.1 L702.5,272.1 L705.0,272.1 L705.0,272.1 L707.5,272.1 L707.5,272.1 L710.0,272.1 L710.0,272.1 L712.5,272.1 L712.5,272.1 L715.0,272.1 L715.0,272.1 L717.5,272.1 L717.5,272.1 L720.0,272.1 L720.0,272.1 L722.5,272.1 L722.5,272.1 L725.0,272.1 L725.0,272.1 L727.5,272.1 L727.5,272.1 L730.0,272.1 L730.0,272.1 L732.5,272.1 L732.5,272.1 L735.0,272.1 L735.0,272.1 L737.5,272.1 L737.5,272.1 L737.5,296.9 L737.5,296.9 L735.0,296.9 L735.0,296.9 L732.5,296.9 L732.5,296.9 L730.0,296.9 L730.0,296.9 L727.5,296.9 L727.5,296.9 L725.0,296.9 L725.0,296.9 L722.5,296.9 L722.5,296.9 L720.0,296.9 L720.0,296.9 L717.5,296.9 L717.5,296.9 L715.0,296.9 L715.0,296.9 L712.5,296.9 L712.5,296.9 L710.0,296.9 L710.0,296.9 L707.5,296.9 L707.5,296.9 L705.0,296.9 L705.0,296.9 L702.5,296.9 L702.5,296.9 L700.0,296.9 L700.0,296.9 L697.5,296.9 L697.5,297.0 L695.0,297.0 L695.0,297.3 L692.5,297.3 L692.5,297.7 L690.0,297.7 L690.0,298.0 L687.5,298.0 L687.5,298.4 L685.0,298.4 L685.0,298.7 L682.5,298.7 L682.5,299.0 L680.0,299.0 L680.0,299.3 L677.5,299.3 L677.5,299.5 L675.0,299.5 L675.0,299.8 L672.5,299.8 L672.5,300.0 L670.0,300.0 L670.0,300.3 L667.5,300.3 L667.5,300.6 L665.0,300.6 L665.0,300.8 L662.5,300.8 L662.5,301.1 L660.0,301.1 L660.0,301.2 L657.5,301.2 L657.5,301.3 L655.0,301.3 L655.0,301.5 L652.5,301.5 L652.5,301.6 L650.0,301.6 L650.0,301.8 L647.5,301.8 L647.5,301.9 L645.0,301.9 L645.0,302.0 L642.5,302.0 L642.5,304.7 L640.0,304.7 L640.0,305.1 L637.5,305.1 L637.5,305.5 L635.0,305.5 L635.0,306.0 L632.5,306.0 L632.5,306.3 L630.0,306.3 L630.0,306.6 L627.5,306.6 L627.5,306.8 L625.0,306.8 L625.0,307.0 L622.5,307.0 L622.5,307.3 L620.0,307.3 L620.0,307.5 L617.5,307.5 L617.5,307.7 L615.0,307.7 L615.0,308.0 L612.5,308.0 L612.5,308.2 L610.0,308.2 L610.0,308.4 L607.5,308.4 L607.5,308.7 L605.0,308.7 L605.0,308.9 L602.5,308.9 L602.5,309.1 L600.0,309.1 L600.0,309.3 L597.5,309.3 L597.5,309.5 L595.0,309.5 L595.0,309.6 L592.5,309.6 L592.5,309.8 L590.0,309.8 L590.0,310.3 L587.5,310.3 L587.5,310.8 L585.0,310.8 L585.0,311.3 L582.5,311.3 L582.5,311.8 L580.0,311.8 L580.0,312.3 L577.5,312.3 L577.5,312.6 L575.0,312.6 L575.0,313.0 L572.5,313.0 L572.5,313.3 L570.0,313.3 L570.0,313.7 L567.5,313.7 L567.5,314.0 L565.0,314.0 L565.0,314.4 L562.5,314.4 L562.5,314.7 L560.0,314.7 L560.0,315.1 L557.5,315.1 L557.5,315.5 L555.0,315.5 L555.0,315.9 L552.5,315.9 L552.5,316.0 L550.0,316.0 L550.0,316.2 L547.5,316.2 L547.5,316.4 L545.0,316.4 L545.0,316.5 L542.5,316.5 L542.5,316.7 L540.0,316.7 L540.0,317.0 L537.5,317.0 L537.5,317.2 L535.0,317.2 L535.0,317.4 L532.5,317.4 L532.5,317.7 L530.0,317.7 L530.0,317.9 L527.5,317.9 L527.5,318.1 L525.0,318.1 L525.0,318.4 L522.5,318.4 L522.5,318.6 L520.0,318.6 L520.0,318.8 L517.5,318.8 L517.5,319.3 L515.0,319.3 L515.0,319.7 L512.5,319.7 L512.5,320.1 L510.0,320.1 L510.0,321.9 L507.5,321.9 L507.5,323.8 L505.0,323.8 L505.0,324.1 L502.5,324.1 L502.5,324.4 L500.0,324.4 L500.0,324.7 L497.5,324.7 L497.5,325.0 L495.0,325.0 L495.0,327.5 L492.5,327.5 L492.5,327.6 L490.0,327.6 L490.0,327.7 L487.5,327.7 L487.5,327.8 L485.0,327.8 L485.0,327.9 L482.5,327.9 L482.5,328.0 L480.0,328.0 L480.0,328.3 L477.5,328.3 L477.5,328.6 L475.0,328.6 L475.0,328.9 L472.5,328.9 L472.5,329.2 L470.0,329.2 L470.0,329.6 L467.5,329.6 L467.5,329.9 L465.0,329.9 L465.0,330.3 L462.5,330.3 L462.5,330.7 L460.0,330.7 L460.0,331.0 L457.5,331.0 L457.5,331.2 L455.0,331.2 L455.0,331.3 L452.5,331.3 L452.5,331.5 L450.0,331.5 L450.0,334.7 L447.5,334.7 L447.5,335.0 L445.0,335.0 L445.0,335.2 L442.5,335.2 L442.5,335.5 L440.0,335.5 L440.0,336.2 L437.5,336.2 L437.5,337.4 L435.0,337.4 L435.0,338.6 L432.5,338.6 L432.5,339.2 L430.0,339.2 L430.0,339.8 L427.5,339.8 L427.5,340.4 L425.0,340.4 L425.0,341.0 L422.5,341.0 L422.5,341.6 L420.0,341.6 L420.0,341.9 L417.5,341.9 L417.5,342.2 L415.0,342.2 L415.0,342.3 L412.5,342.3 L412.5,342.3 L410.0,342.3 L410.0,342.4 L407.5,342.4 L407.5,342.4 L405.0,342.4 L405.0,342.6 L402.5,342.6 L402.5,343.0 L400.0,343.0 L400.0,343.3 L397.5,343.3 L397.5,343.6 L395.0,343.6 L395.0,343.9 L392.5,343.9 L392.5,344.3 L390.0,344.3 L390.0,344.6 L387.5,344.6 L387.5,344.9 L385.0,344.9 L385.0,345.7 L382.5,345.7 L382.5,346.7 L380.0,346.7 L380.0,347.8 L377.5,347.8 L377.5,349.1 L375.0,349.1 L375.0,350.6 L372.5,350.6 L372.5,352.3 L370.0,352.3 L370.0,354.3 L367.5,354.3 L367.5,356.0 L365.0,356.0 L365.0,356.3 L362.5,356.3 L362.5,356.7 L360.0,356.7 L360.0,358.3 L357.5,358.3 L357.5,359.7 L355.0,359.7 L355.0,360.2 L352.5,360.2 L352.5,360.7 L350.0,360.7 L350.0,361.2 L347.5,361.2 L347.5,361.5 L345.0,361.5 L345.0,361.9 L342.5,361.9 L342.5,362.3 L340.0,362.3 L340.0,362.6 L337.5,362.6 L337.5,362.9 L335.0,362.9 L335.0,363.1 L332.5,363.1 L332.5,363.4 L330.0,363.4 L330.0,363.6 L327.5,363.6 L327.5,363.8 L325.0,363.8 L325.0,364.3 L322.5,364.3 L322.5,365.0 L320.0,365.0 L320.0,365.7 L317.5,365.7 L317.5,366.5 L315.0,366.5 L315.0,367.7 L312.5,367.7 L312.5,369.1 L310.0,369.1 L310.0,371.0 L307.5,371.0 L307.5,373.0 L305.0,373.0 L305.0,375.0 L302.5,375.0 L302.5,377.0 L300.0,377.0 L300.0,378.2 L297.5,378.2 L297.5,379.3 L295.0,379.3 L295.0,380.4 L292.5,380.4 L292.5,381.1 L290.0,381.1 L290.0,381.6 L287.5,381.6 L287.5,382.1 L285.0,382.1 L285.0,382.6 L282.5,382.6 L282.5,382.9 L280.0,382.9 L280.0,383.2 L277.5,383.2 L277.5,383.5 L275.0,383.5 L275.0,383.8 L272.5,383.8 L272.5,385.4 L270.0,385.4 L270.0,387.9 L267.5,387.9 L267.5,388.3 L265.0,388.3 L265.0,388.7 L262.5,388.7 L262.5,389.2 L260.0,389.2 L260.0,389.7 L257.5,389.7 L257.5,390.3 L255.0,390.3 L255.0,390.9 L252.5,390.9 L252.5,391.4 L250.0,391.4 L250.0,392.1 L247.5,392.1 L247.5,392.7 L245.0,392.7 L245.0,393.3 L242.5,393.3 L242.5,393.9 L240.0,393.9 L240.0,395.2 L237.5,395.2 L237.5,396.4 L235.0,396.4 L235.0,397.7 L232.5,397.7 L232.5,398.9 L230.0,398.9 L230.0,399.4 L227.5,399.4 L227.5,399.9 L225.0,399.9 L225.0,400.4 L222.5,400.4 L222.5,400.8 L220.0,400.8 L220.0,401.3 L217.5,401.3 L217.5,401.8 L215.0,401.8 L215.0,402.2 L212.5,402.2 L212.5,402.7 L210.0,402.7 L210.0,403.2 L207.5,403.2 L207.5,403.7 L205.0,403.7 L205.0,404.1 L202.5,404.1 L202.5,404.6 L200.0,404.6 L200.0,405.1 L197.5,405.1 L197.5,405.5 L195.0,405.5 L195.0,406.1 L192.5,406.1 L192.5,406.7 L190.0,406.7 L190.0,407.4 L187.5,407.4 L187.5,407.8 L185.0,407.8 L185.0,408.3 L182.5,408.3 L182.5,409.8 L180.0,409.8 L180.0,412.3 L177.5,412.3 L177.5,412.6 L175.0,412.6 L175.0,413.0 L172.5,413.0 L172.5,413.3 L170.0,413.3 L170.0,413.8 L167.5,413.8 L167.5,414.6 L165.0,414.6 L165.0,415.5 L162.5,415.5 L162.5,416.3 L160.0,416.3 L160.0,417.5 L157.5,417.5 L157.5,418.9 L155.0,418.9 L155.0,420.3 L152.5,420.3 L152.5,421.3 L150.0,421.3 L150.0,422.0 L147.5,422.0 L147.5,422.6 L145.0,422.6 L145.0,423.0 L142.5,423.0 L142.5,422.8 L140.0,422.8 L140.0,422.6 L137.5,422.6 L137.5,429.1 L135.0,429.1 L135.0,434.7 L132.5,434.7 L132.5,435.9 L130.0,435.9 L130.0,436.5 L127.5,436.5 L127.5,436.5 L125.0,436.5 L125.0,436.5 L122.5,436.5 L122.5,436.0 L120.0,436.0 Z" fill="rgba(178,25,52,0.3)"/>
<path d="M120.0,436.0 H122.5 V435.2 H125.0 V434.4 H127.5 V433.7 H130.0 V432.3 H132.5 V430.5 H135.0 V424.4 H137.5 V417.5 H140.0 V417.6 H142.5 V417.7 H145.0 V417.2 H147.5 V416.4 H150.0 V415.7 H152.5 V414.5 H155.0 V413.0 H157.5 V411.5 H160.0 V410.2 H162.5 V409.2 H165.0 V408.3 H167.5 V407.3 H170.0 V406.7 H172.5 V406.3 H175.0 V405.8 H177.5 V405.4 H180.0 V402.8 H182.5 V401.2 H185.0 V400.6 H187.5 V400.1 H190.0 V399.4 H192.5 V398.6 H195.0 V398.1 H197.5 V397.5 H200.0 V396.9 H202.5 V396.4 H205.0 V395.8 H207.5 V395.3 H210.0 V394.7 H212.5 V394.2 H215.0 V393.6 H217.5 V393.1 H220.0 V392.5 H222.5 V392.0 H225.0 V391.4 H227.5 V390.9 H230.0 V390.3 H232.5 V389.0 H235.0 V387.6 H237.5 V386.3 H240.0 V385.0 H242.5 V384.3 H245.0 V383.7 H247.5 V383.0 H250.0 V382.3 H252.5 V381.7 H255.0 V381.1 H257.5 V380.4 H260.0 V379.9 H262.5 V379.4 H265.0 V378.9 H267.5 V378.4 H270.0 V375.9 H272.5 V374.3 H275.0 V374.0 H277.5 V373.7 H280.0 V373.4 H282.5 V373.1 H285.0 V372.6 H287.5 V372.0 H290.0 V371.5 H292.5 V370.8 H295.0 V369.7 H297.5 V368.5 H300.0 V367.4 H302.5 V365.4 H305.0 V363.4 H307.5 V361.3 H310.0 V359.4 H312.5 V358.0 H315.0 V356.7 H317.5 V356.0 H320.0 V355.2 H322.5 V354.5 H325.0 V354.1 H327.5 V353.8 H330.0 V353.6 H332.5 V353.3 H335.0 V353.1 H337.5 V352.8 H340.0 V352.4 H342.5 V352.1 H345.0 V351.7 H347.5 V351.3 H350.0 V350.8 H352.5 V350.3 H355.0 V349.8 H357.5 V348.4 H360.0 V346.8 H362.5 V346.4 H365.0 V346.1 H367.5 V344.4 H370.0 V342.4 H372.5 V340.7 H375.0 V339.2 H377.5 V337.9 H380.0 V336.8 H382.5 V335.7 H385.0 V334.9 H387.5 V334.6 H390.0 V334.3 H392.5 V333.9 H395.0 V333.6 H397.5 V333.2 H400.0 V332.8 H402.5 V332.4 H405.0 V332.1 H407.5 V332.0 H410.0 V331.9 H412.5 V331.8 H415.0 V331.7 H417.5 V331.3 H420.0 V331.0 H422.5 V330.3 H425.0 V329.7 H427.5 V329.0 H430.0 V328.4 H432.5 V327.7 H435.0 V326.4 H437.5 V325.2 H440.0 V324.4 H442.5 V324.1 H445.0 V323.8 H447.5 V323.5 H450.0 V320.2 H452.5 V319.9 H455.0 V319.7 H457.5 V319.5 H460.0 V319.1 H462.5 V318.8 H465.0 V318.4 H467.5 V318.0 H470.0 V317.6 H472.5 V317.3 H475.0 V317.0 H477.5 V316.7 H480.0 V316.4 H482.5 V316.3 H485.0 V316.2 H487.5 V316.0 H490.0 V315.9 H492.5 V315.8 H495.0 V313.3 H497.5 V313.0 H500.0 V312.6 H502.5 V312.3 H505.0 V312.0 H507.5 V310.1 H510.0 V308.3 H512.5 V307.9 H515.0 V307.4 H517.5 V307.0 H520.0 V306.8 H522.5 V306.5 H525.0 V306.3 H527.5 V306.1 H530.0 V305.8 H532.5 V305.6 H535.0 V305.3 H537.5 V305.1 H540.0 V304.8 H542.5 V304.6 H545.0 V304.4 H547.5 V304.3 H550.0 V304.1 H552.5 V303.9 H555.0 V303.5 H557.5 V303.1 H560.0 V302.8 H562.5 V302.4 H565.0 V302.0 H567.5 V301.6 H570.0 V301.3 H572.5 V300.9 H575.0 V300.6 H577.5 V300.2 H580.0 V299.7 H582.5 V299.2 H585.0 V298.7 H587.5 V298.2 H590.0 V297.7 H592.5 V297.5 H595.0 V297.4 H597.5 V297.2 H600.0 V297.0 H602.5 V296.8 H605.0 V296.5 H607.5 V296.3 H610.0 V296.0 H612.5 V295.8 H615.0 V295.5 H617.5 V295.3 H620.0 V295.1 H622.5 V294.8 H625.0 V294.6 H627.5 V294.3 H630.0 V294.1 H632.5 V293.7 H635.0 V293.3 H637.5 V292.8 H640.0 V292.4 H642.5 V289.8 H645.0 V289.6 H647.5 V289.5 H650.0 V289.3 H652.5 V289.2 H655.0 V289.0 H657.5 V288.9 H660.0 V288.8 H662.5 V288.5 H665.0 V288.2 H667.5 V288.0 H670.0 V287.7 H672.5 V287.5 H675.0 V287.2 H677.5 V287.0 H680.0 V286.7 H682.5 V286.4 H685.0 V286.0 H687.5 V285.7 H690.0 V285.3 H692.5 V285.0 H695.0 V284.6 H697.5 V284.5 H700.0 V284.5 H702.5 V284.5 H705.0 V284.5 H707.5 V284.5 H710.0 V284.5 H712.5 V284.5 H715.0 V284.5 H717.5 V284.5 H720.0 V284.5 H722.5 V284.5 H725.0 V284.5 H727.5 V284.5 H730.0 V284.5 H732.5 V284.5 H735.0 V284.5 H737.5 V284.5" fill="none" stroke="#a51b37" stroke-width="2.4"/>
<path class="band" d="M120.0,435.0 L122.5,435.0 L122.5,431.7 L125.0,431.7 L125.0,429.4 L127.5,429.4 L127.5,427.3 L130.0,427.3 L130.0,425.0 L132.5,425.0 L132.5,422.5 L135.0,422.5 L135.0,419.3 L137.5,419.3 L137.5,415.6 L140.0,415.6 L140.0,415.2 L142.5,415.2 L142.5,414.8 L145.0,414.8 L145.0,414.2 L147.5,414.2 L147.5,413.4 L150.0,413.4 L150.0,412.7 L152.5,412.7 L152.5,411.6 L155.0,411.6 L155.0,410.3 L157.5,410.3 L157.5,408.7 L160.0,408.7 L160.0,407.3 L162.5,407.3 L162.5,406.5 L165.0,406.5 L165.0,405.6 L167.5,405.6 L167.5,404.3 L170.0,404.3 L170.0,403.1 L172.5,403.1 L172.5,402.4 L175.0,402.4 L175.0,401.7 L177.5,401.7 L177.5,401.0 L180.0,401.0 L180.0,398.2 L182.5,398.2 L182.5,396.5 L185.0,396.5 L185.0,395.8 L187.5,395.8 L187.5,395.2 L190.0,395.2 L190.0,394.5 L192.5,394.5 L192.5,393.7 L195.0,393.7 L195.0,392.1 L197.5,392.1 L197.5,390.9 L200.0,390.9 L200.0,390.0 L202.5,390.0 L202.5,389.2 L205.0,389.2 L205.0,388.3 L207.5,388.3 L207.5,387.4 L210.0,387.4 L210.0,386.6 L212.5,386.6 L212.5,385.8 L215.0,385.8 L215.0,385.0 L217.5,385.0 L217.5,384.2 L220.0,384.2 L220.0,383.1 L222.5,383.1 L222.5,381.5 L225.0,381.5 L225.0,379.9 L227.5,379.9 L227.5,378.4 L230.0,378.4 L230.0,377.5 L232.5,377.5 L232.5,376.5 L235.0,376.5 L235.0,375.6 L237.5,375.6 L237.5,374.6 L240.0,374.6 L240.0,373.6 L242.5,373.6 L242.5,372.9 L245.0,372.9 L245.0,372.2 L247.5,372.2 L247.5,371.5 L250.0,371.5 L250.0,370.8 L252.5,370.8 L252.5,369.9 L255.0,369.9 L255.0,369.0 L257.5,369.0 L257.5,368.1 L260.0,368.1 L260.0,367.3 L262.5,367.3 L262.5,366.6 L265.0,366.6 L265.0,365.9 L267.5,365.9 L267.5,365.2 L270.0,365.2 L270.0,363.5 L272.5,363.5 L272.5,362.3 L275.0,362.3 L275.0,361.9 L277.5,361.9 L277.5,361.5 L280.0,361.5 L280.0,361.1 L282.5,361.1 L282.5,360.7 L285.0,360.7 L285.0,359.9 L287.5,359.9 L287.5,359.1 L290.0,359.1 L290.0,358.3 L292.5,358.3 L292.5,357.5 L295.0,357.5 L295.0,356.5 L297.5,356.5 L297.5,355.6 L300.0,355.6 L300.0,354.7 L302.5,354.7 L302.5,354.1 L305.0,354.1 L305.0,353.5 L307.5,353.5 L307.5,352.9 L310.0,352.9 L310.0,352.3 L312.5,352.3 L312.5,351.7 L315.0,351.7 L315.0,351.0 L317.5,351.0 L317.5,350.4 L320.0,350.4 L320.0,349.9 L322.5,349.9 L322.5,349.5 L325.0,349.5 L325.0,349.1 L327.5,349.1 L327.5,348.7 L330.0,348.7 L330.0,348.3 L332.5,348.3 L332.5,347.8 L335.0,347.8 L335.0,347.3 L337.5,347.3 L337.5,346.8 L340.0,346.8 L340.0,346.3 L342.5,346.3 L342.5,345.8 L345.0,345.8 L345.0,345.3 L347.5,345.3 L347.5,344.8 L350.0,344.8 L350.0,344.3 L352.5,344.3 L352.5,343.9 L355.0,343.9 L355.0,343.4 L357.5,343.4 L357.5,343.0 L360.0,343.0 L360.0,342.5 L362.5,342.5 L362.5,342.0 L365.0,342.0 L365.0,341.5 L367.5,341.5 L367.5,341.0 L370.0,341.0 L370.0,340.6 L372.5,340.6 L372.5,340.0 L375.0,340.0 L375.0,339.4 L377.5,339.4 L377.5,338.7 L380.0,338.7 L380.0,338.1 L382.5,338.1 L382.5,337.5 L385.0,337.5 L385.0,337.0 L387.5,337.0 L387.5,336.5 L390.0,336.5 L390.0,336.0 L392.5,336.0 L392.5,335.5 L395.0,335.5 L395.0,335.0 L397.5,335.0 L397.5,334.6 L400.0,334.6 L400.0,334.2 L402.5,334.2 L402.5,333.8 L405.0,333.8 L405.0,333.4 L407.5,333.4 L407.5,333.2 L410.0,333.2 L410.0,333.0 L412.5,333.0 L412.5,332.8 L415.0,332.8 L415.0,332.5 L417.5,332.5 L417.5,332.3 L420.0,332.3 L420.0,332.1 L422.5,332.1 L422.5,331.4 L425.0,331.4 L425.0,330.7 L427.5,330.7 L427.5,330.0 L430.0,330.0 L430.0,329.4 L432.5,329.4 L432.5,328.7 L435.0,328.7 L435.0,328.0 L437.5,328.0 L437.5,327.3 L440.0,327.3 L440.0,326.6 L442.5,326.6 L442.5,326.0 L445.0,326.0 L445.0,325.3 L447.5,325.3 L447.5,325.0 L450.0,325.0 L450.0,324.6 L452.5,324.6 L452.5,324.3 L455.0,324.3 L455.0,324.0 L457.5,324.0 L457.5,323.7 L460.0,323.7 L460.0,323.5 L462.5,323.5 L462.5,323.2 L465.0,323.2 L465.0,322.9 L467.5,322.9 L467.5,322.7 L470.0,322.7 L470.0,322.4 L472.5,322.4 L472.5,322.0 L475.0,322.0 L475.0,321.6 L477.5,321.6 L477.5,321.2 L480.0,321.2 L480.0,320.8 L482.5,320.8 L482.5,320.3 L485.0,320.3 L485.0,319.9 L487.5,319.9 L487.5,319.4 L490.0,319.4 L490.0,319.0 L492.5,319.0 L492.5,318.5 L495.0,318.5 L495.0,318.1 L497.5,318.1 L497.5,317.8 L500.0,317.8 L500.0,317.4 L502.5,317.4 L502.5,317.0 L505.0,317.0 L505.0,316.6 L507.5,316.6 L507.5,316.1 L510.0,316.1 L510.0,315.6 L512.5,315.6 L512.5,315.0 L515.0,315.0 L515.0,314.5 L517.5,314.5 L517.5,314.0 L520.0,314.0 L520.0,313.6 L522.5,313.6 L522.5,313.3 L525.0,313.3 L525.0,312.9 L527.5,312.9 L527.5,312.5 L530.0,312.5 L530.0,312.2 L532.5,312.2 L532.5,311.9 L535.0,311.9 L535.0,311.6 L537.5,311.6 L537.5,311.3 L540.0,311.3 L540.0,311.0 L542.5,311.0 L542.5,310.8 L545.0,310.8 L545.0,310.7 L547.5,310.7 L547.5,310.5 L550.0,310.5 L550.0,310.3 L552.5,310.3 L552.5,310.1 L555.0,310.1 L555.0,309.8 L557.5,309.8 L557.5,309.4 L560.0,309.4 L560.0,309.0 L562.5,309.0 L562.5,308.6 L565.0,308.6 L565.0,308.2 L567.5,308.2 L567.5,307.7 L570.0,307.7 L570.0,307.2 L572.5,307.2 L572.5,306.7 L575.0,306.7 L575.0,306.2 L577.5,306.2 L577.5,305.7 L580.0,305.7 L580.0,305.3 L582.5,305.3 L582.5,304.9 L585.0,304.9 L585.0,304.5 L587.5,304.5 L587.5,304.1 L590.0,304.1 L590.0,303.7 L592.5,303.7 L592.5,302.6 L595.0,302.6 L595.0,301.7 L597.5,301.7 L597.5,301.3 L600.0,301.3 L600.0,300.9 L602.5,300.9 L602.5,300.5 L605.0,300.5 L605.0,300.1 L607.5,300.1 L607.5,299.7 L610.0,299.7 L610.0,299.3 L612.5,299.3 L612.5,298.9 L615.0,298.9 L615.0,298.6 L617.5,298.6 L617.5,298.4 L620.0,298.4 L620.0,298.1 L622.5,298.1 L622.5,297.8 L625.0,297.8 L625.0,297.5 L627.5,297.5 L627.5,297.2 L630.0,297.2 L630.0,296.9 L632.5,296.9 L632.5,296.4 L635.0,296.4 L635.0,295.9 L637.5,295.9 L637.5,295.4 L640.0,295.4 L640.0,294.8 L642.5,294.8 L642.5,294.3 L645.0,294.3 L645.0,293.7 L647.5,293.7 L647.5,291.5 L650.0,291.5 L650.0,291.0 L652.5,291.0 L652.5,290.5 L655.0,290.5 L655.0,290.0 L657.5,290.0 L657.5,289.5 L660.0,289.5 L660.0,289.0 L662.5,289.0 L662.5,287.3 L665.0,287.3 L665.0,287.3 L667.5,287.3 L667.5,287.2 L670.0,287.2 L670.0,287.1 L672.5,287.1 L672.5,287.1 L675.0,287.1 L675.0,287.0 L677.5,287.0 L677.5,286.9 L680.0,286.9 L680.0,286.9 L682.5,286.9 L682.5,286.6 L685.0,286.6 L685.0,286.2 L687.5,286.2 L687.5,285.9 L690.0,285.9 L690.0,285.6 L692.5,285.6 L692.5,285.3 L695.0,285.3 L695.0,285.0 L697.5,285.0 L697.5,284.8 L700.0,284.8 L700.0,284.8 L702.5,284.8 L702.5,284.8 L705.0,284.8 L705.0,284.8 L707.5,284.8 L707.5,284.8 L710.0,284.8 L710.0,284.8 L712.5,284.8 L712.5,284.8 L715.0,284.8 L715.0,284.8 L717.5,284.8 L717.5,284.8 L720.0,284.8 L720.0,284.8 L722.5,284.8 L722.5,284.8 L725.0,284.8 L725.0,284.8 L727.5,284.8 L727.5,284.8 L730.0,284.8 L730.0,284.8 L732.5,284.8 L732.5,284.8 L735.0,284.8 L735.0,284.8 L737.5,284.8 L737.5,284.8 L737.5,309.6 L737.5,309.6 L735.0,309.6 L735.0,309.6 L732.5,309.6 L732.5,309.6 L730.0,309.6 L730.0,309.6 L727.5,309.6 L727.5,309.6 L725.0,309.6 L725.0,309.6 L722.5,309.6 L722.5,309.6 L720.0,309.6 L720.0,309.6 L717.5,309.6 L717.5,309.6 L715.0,309.6 L715.0,309.6 L712.5,309.6 L712.5,309.6 L710.0,309.6 L710.0,309.6 L707.5,309.6 L707.5,309.6 L705.0,309.6 L705.0,309.6 L702.5,309.6 L702.5,309.6 L700.0,309.6 L700.0,309.6 L697.5,309.6 L697.5,309.7 L695.0,309.7 L695.0,310.0 L692.5,310.0 L692.5,310.3 L690.0,310.3 L690.0,310.6 L687.5,310.6 L687.5,310.9 L685.0,310.9 L685.0,311.2 L682.5,311.2 L682.5,311.5 L680.0,311.5 L680.0,311.6 L677.5,311.6 L677.5,311.7 L675.0,311.7 L675.0,311.7 L672.5,311.7 L672.5,311.8 L670.0,311.8 L670.0,311.8 L667.5,311.8 L667.5,311.9 L665.0,311.9 L665.0,312.0 L662.5,312.0 L662.5,313.6 L660.0,313.6 L660.0,314.1 L657.5,314.1 L657.5,314.6 L655.0,314.6 L655.0,315.1 L652.5,315.1 L652.5,315.6 L650.0,315.6 L650.0,316.1 L647.5,316.1 L647.5,318.3 L645.0,318.3 L645.0,318.8 L642.5,318.8 L642.5,319.3 L640.0,319.3 L640.0,319.9 L637.5,319.9 L637.5,320.4 L635.0,320.4 L635.0,320.9 L632.5,320.9 L632.5,321.3 L630.0,321.3 L630.0,321.6 L627.5,321.6 L627.5,321.9 L625.0,321.9 L625.0,322.2 L622.5,322.2 L622.5,322.4 L620.0,322.4 L620.0,322.7 L617.5,322.7 L617.5,323.0 L615.0,323.0 L615.0,323.3 L612.5,323.3 L612.5,323.6 L610.0,323.6 L610.0,324.0 L607.5,324.0 L607.5,324.4 L605.0,324.4 L605.0,324.7 L602.5,324.7 L602.5,325.1 L600.0,325.1 L600.0,325.5 L597.5,325.5 L597.5,325.9 L595.0,325.9 L595.0,326.8 L592.5,326.8 L592.5,327.9 L590.0,327.9 L590.0,328.3 L587.5,328.3 L587.5,328.7 L585.0,328.7 L585.0,329.0 L582.5,329.0 L582.5,329.4 L580.0,329.4 L580.0,329.8 L577.5,329.8 L577.5,330.3 L575.0,330.3 L575.0,330.7 L572.5,330.7 L572.5,331.2 L570.0,331.2 L570.0,331.7 L567.5,331.7 L567.5,332.2 L565.0,332.2 L565.0,332.6 L562.5,332.6 L562.5,332.9 L560.0,332.9 L560.0,333.3 L557.5,333.3 L557.5,333.7 L555.0,333.7 L555.0,334.1 L552.5,334.1 L552.5,334.2 L550.0,334.2 L550.0,334.4 L547.5,334.4 L547.5,334.5 L545.0,334.5 L545.0,334.7 L542.5,334.7 L542.5,334.8 L540.0,334.8 L540.0,335.1 L537.5,335.1 L537.5,335.4 L535.0,335.4 L535.0,335.6 L532.5,335.6 L532.5,335.9 L530.0,335.9 L530.0,336.2 L527.5,336.2 L527.5,336.6 L525.0,336.6 L525.0,336.9 L522.5,336.9 L522.5,337.3 L520.0,337.3 L520.0,337.6 L517.5,337.6 L517.5,338.2 L515.0,338.2 L515.0,338.7 L512.5,338.7 L512.5,339.2 L510.0,339.2 L510.0,339.7 L507.5,339.7 L507.5,340.2 L505.0,340.2 L505.0,340.5 L502.5,340.5 L502.5,340.9 L500.0,340.9 L500.0,341.2 L497.5,341.2 L497.5,341.6 L495.0,341.6 L495.0,341.9 L492.5,341.9 L492.5,342.3 L490.0,342.3 L490.0,342.8 L487.5,342.8 L487.5,343.2 L485.0,343.2 L485.0,343.6 L482.5,343.6 L482.5,344.0 L480.0,344.0 L480.0,344.4 L477.5,344.4 L477.5,344.8 L475.0,344.8 L475.0,345.2 L472.5,345.2 L472.5,345.6 L470.0,345.6 L470.0,345.8 L467.5,345.8 L467.5,346.0 L465.0,346.0 L465.0,346.3 L462.5,346.3 L462.5,346.5 L460.0,346.5 L460.0,346.7 L457.5,346.7 L457.5,346.9 L455.0,346.9 L455.0,347.1 L452.5,347.1 L452.5,347.3 L450.0,347.3 L450.0,347.5 L447.5,347.5 L447.5,347.7 L445.0,347.7 L445.0,348.3 L442.5,348.3 L442.5,348.8 L440.0,348.8 L440.0,349.4 L437.5,349.4 L437.5,350.0 L435.0,350.0 L435.0,350.5 L432.5,350.5 L432.5,351.1 L430.0,351.1 L430.0,351.6 L427.5,351.6 L427.5,352.2 L425.0,352.2 L425.0,352.8 L422.5,352.8 L422.5,353.3 L420.0,353.3 L420.0,353.4 L417.5,353.4 L417.5,353.6 L415.0,353.6 L415.0,353.7 L412.5,353.7 L412.5,353.8 L410.0,353.8 L410.0,353.9 L407.5,353.9 L407.5,354.0 L405.0,354.0 L405.0,354.2 L402.5,354.2 L402.5,354.5 L400.0,354.5 L400.0,354.8 L397.5,354.8 L397.5,355.1 L395.0,355.1 L395.0,355.5 L392.5,355.5 L392.5,356.0 L390.0,356.0 L390.0,356.5 L387.5,356.5 L387.5,357.0 L385.0,357.0 L385.0,357.4 L382.5,357.4 L382.5,358.0 L380.0,358.0 L380.0,358.6 L377.5,358.6 L377.5,359.3 L375.0,359.3 L375.0,359.9 L372.5,359.9 L372.5,360.4 L370.0,360.4 L370.0,360.9 L367.5,360.9 L367.5,361.4 L365.0,361.4 L365.0,361.8 L362.5,361.8 L362.5,362.3 L360.0,362.3 L360.0,362.7 L357.5,362.7 L357.5,363.2 L355.0,363.2 L355.0,363.6 L352.5,363.6 L352.5,364.0 L350.0,364.0 L350.0,364.5 L347.5,364.5 L347.5,365.0 L345.0,365.0 L345.0,365.4 L342.5,365.4 L342.5,365.9 L340.0,365.9 L340.0,366.4 L337.5,366.4 L337.5,366.9 L335.0,366.9 L335.0,367.4 L332.5,367.4 L332.5,367.9 L330.0,367.9 L330.0,368.3 L327.5,368.3 L327.5,368.7 L325.0,368.7 L325.0,369.0 L322.5,369.0 L322.5,369.4 L320.0,369.4 L320.0,369.9 L317.5,369.9 L317.5,370.5 L315.0,370.5 L315.0,371.1 L312.5,371.1 L312.5,371.7 L310.0,371.7 L310.0,372.3 L307.5,372.3 L307.5,372.9 L305.0,372.9 L305.0,373.4 L302.5,373.4 L302.5,373.9 L300.0,373.9 L300.0,374.9 L297.5,374.9 L297.5,375.8 L295.0,375.8 L295.0,376.7 L292.5,376.7 L292.5,377.5 L290.0,377.5 L290.0,378.3 L287.5,378.3 L287.5,379.0 L285.0,379.0 L285.0,379.8 L282.5,379.8 L282.5,380.2 L280.0,380.2 L280.0,380.6 L277.5,380.6 L277.5,381.0 L275.0,381.0 L275.0,381.4 L272.5,381.4 L272.5,382.5 L270.0,382.5 L270.0,384.1 L267.5,384.1 L267.5,384.7 L265.0,384.7 L265.0,385.3 L262.5,385.3 L262.5,385.9 L260.0,385.9 L260.0,386.6 L257.5,386.6 L257.5,387.4 L255.0,387.4 L255.0,388.2 L252.5,388.2 L252.5,389.0 L250.0,389.0 L250.0,389.6 L247.5,389.6 L247.5,390.2 L245.0,390.2 L245.0,390.8 L242.5,390.8 L242.5,391.4 L240.0,391.4 L240.0,392.3 L237.5,392.3 L237.5,393.2 L235.0,393.2 L235.0,394.0 L232.5,394.0 L232.5,394.8 L230.0,394.8 L230.0,395.5 L227.5,395.5 L227.5,396.8 L225.0,396.8 L225.0,398.3 L222.5,398.3 L222.5,399.7 L220.0,399.7 L220.0,400.7 L217.5,400.7 L217.5,401.3 L215.0,401.3 L215.0,401.9 L212.5,401.9 L212.5,402.6 L210.0,402.6 L210.0,403.2 L207.5,403.2 L207.5,403.9 L205.0,403.9 L205.0,404.6 L202.5,404.6 L202.5,405.4 L200.0,405.4 L200.0,406.1 L197.5,406.1 L197.5,407.1 L195.0,407.1 L195.0,408.5 L192.5,408.5 L192.5,409.2 L190.0,409.2 L190.0,409.7 L187.5,409.7 L187.5,410.1 L185.0,410.1 L185.0,410.6 L182.5,410.6 L182.5,412.2 L180.0,412.2 L180.0,414.8 L177.5,414.8 L177.5,415.3 L175.0,415.3 L175.0,415.8 L172.5,415.8 L172.5,416.3 L170.0,416.3 L170.0,417.2 L167.5,417.2 L167.5,418.3 L165.0,418.3 L165.0,419.0 L162.5,419.0 L162.5,419.6 L160.0,419.6 L160.0,420.7 L157.5,420.7 L157.5,422.1 L155.0,422.1 L155.0,423.2 L152.5,423.2 L152.5,424.0 L150.0,424.0 L150.0,424.5 L147.5,424.5 L147.5,425.0 L145.0,425.0 L145.0,425.4 L142.5,425.4 L142.5,425.6 L140.0,425.6 L140.0,425.7 L137.5,425.7 L137.5,428.8 L135.0,428.8 L135.0,430.9 L132.5,430.9 L132.5,432.2 L130.0,432.2 L130.0,433.4 L127.5,433.4 L127.5,434.3 L125.0,434.3 L125.0,435.1 L122.5,435.1 L122.5,435.0 L120.0,435.0 Z" fill="rgba(2,168,160,0.38)"/>
<path d="M120.0,435.0 H122.5 V433.4 H125.0 V431.9 H127.5 V430.4 H130.0 V428.6 H132.5 V426.7 H135.0 V424.1 H137.5 V420.6 H140.0 V420.4 H142.5 V420.1 H145.0 V419.6 H147.5 V419.0 H150.0 V418.3 H152.5 V417.4 H155.0 V416.2 H157.5 V414.7 H160.0 V413.5 H162.5 V412.7 H165.0 V412.0 H167.5 V410.7 H170.0 V409.7 H172.5 V409.1 H175.0 V408.5 H177.5 V407.9 H180.0 V405.2 H182.5 V403.5 H185.0 V403.0 H187.5 V402.4 H190.0 V401.9 H192.5 V401.1 H195.0 V399.6 H197.5 V398.5 H200.0 V397.7 H202.5 V396.9 H205.0 V396.1 H207.5 V395.3 H210.0 V394.6 H212.5 V393.8 H215.0 V393.1 H217.5 V392.4 H220.0 V391.4 H222.5 V389.9 H225.0 V388.4 H227.5 V387.0 H230.0 V386.1 H232.5 V385.3 H235.0 V384.4 H237.5 V383.4 H240.0 V382.5 H242.5 V381.9 H245.0 V381.2 H247.5 V380.6 H250.0 V379.9 H252.5 V379.0 H255.0 V378.2 H257.5 V377.3 H260.0 V376.6 H262.5 V376.0 H265.0 V375.3 H267.5 V374.7 H270.0 V373.0 H272.5 V371.9 H275.0 V371.5 H277.5 V371.1 H280.0 V370.7 H282.5 V370.2 H285.0 V369.5 H287.5 V368.7 H290.0 V367.9 H292.5 V367.1 H295.0 V366.2 H297.5 V365.2 H300.0 V364.3 H302.5 V363.7 H305.0 V363.2 H307.5 V362.6 H310.0 V362.0 H312.5 V361.4 H315.0 V360.8 H317.5 V360.1 H320.0 V359.6 H322.5 V359.2 H325.0 V358.9 H327.5 V358.5 H330.0 V358.1 H332.5 V357.6 H335.0 V357.1 H337.5 V356.6 H340.0 V356.1 H342.5 V355.6 H345.0 V355.1 H347.5 V354.6 H350.0 V354.2 H352.5 V353.7 H355.0 V353.3 H357.5 V352.8 H360.0 V352.4 H362.5 V351.9 H365.0 V351.4 H367.5 V351.0 H370.0 V350.5 H372.5 V349.9 H375.0 V349.3 H377.5 V348.7 H380.0 V348.1 H382.5 V347.5 H385.0 V347.0 H387.5 V346.5 H390.0 V346.0 H392.5 V345.5 H395.0 V345.1 H397.5 V344.7 H400.0 V344.4 H402.5 V344.0 H405.0 V343.7 H407.5 V343.6 H410.0 V343.4 H412.5 V343.2 H415.0 V343.0 H417.5 V342.9 H420.0 V342.7 H422.5 V342.1 H425.0 V341.5 H427.5 V340.8 H430.0 V340.2 H432.5 V339.6 H435.0 V339.0 H437.5 V338.4 H440.0 V337.7 H442.5 V337.1 H445.0 V336.5 H447.5 V336.2 H450.0 V336.0 H452.5 V335.7 H455.0 V335.5 H457.5 V335.2 H460.0 V335.0 H462.5 V334.7 H465.0 V334.5 H467.5 V334.3 H470.0 V334.0 H472.5 V333.6 H475.0 V333.2 H477.5 V332.8 H480.0 V332.4 H482.5 V332.0 H485.0 V331.5 H487.5 V331.1 H490.0 V330.6 H492.5 V330.2 H495.0 V329.8 H497.5 V329.5 H500.0 V329.1 H502.5 V328.8 H505.0 V328.4 H507.5 V327.9 H510.0 V327.4 H512.5 V326.9 H515.0 V326.3 H517.5 V325.8 H520.0 V325.5 H522.5 V325.1 H525.0 V324.7 H527.5 V324.4 H530.0 V324.0 H532.5 V323.7 H535.0 V323.5 H537.5 V323.2 H540.0 V322.9 H542.5 V322.7 H545.0 V322.6 H547.5 V322.4 H550.0 V322.3 H552.5 V322.1 H555.0 V321.7 H557.5 V321.3 H560.0 V321.0 H562.5 V320.6 H565.0 V320.2 H567.5 V319.7 H570.0 V319.2 H572.5 V318.7 H575.0 V318.2 H577.5 V317.7 H580.0 V317.3 H582.5 V317.0 H585.0 V316.6 H587.5 V316.2 H590.0 V315.8 H592.5 V314.7 H595.0 V313.8 H597.5 V313.4 H600.0 V313.0 H602.5 V312.6 H605.0 V312.2 H607.5 V311.9 H610.0 V311.5 H612.5 V311.1 H615.0 V310.8 H617.5 V310.5 H620.0 V310.2 H622.5 V310.0 H625.0 V309.7 H627.5 V309.4 H630.0 V309.1 H632.5 V308.7 H635.0 V308.1 H637.5 V307.6 H640.0 V307.1 H642.5 V306.5 H645.0 V306.0 H647.5 V303.8 H650.0 V303.3 H652.5 V302.8 H655.0 V302.3 H657.5 V301.8 H660.0 V301.3 H662.5 V299.7 H665.0 V299.6 H667.5 V299.5 H670.0 V299.5 H672.5 V299.4 H675.0 V299.3 H677.5 V299.3 H680.0 V299.2 H682.5 V298.9 H685.0 V298.6 H687.5 V298.3 H690.0 V297.9 H692.5 V297.6 H695.0 V297.3 H697.5 V297.2 H700.0 V297.2 H702.5 V297.2 H705.0 V297.2 H707.5 V297.2 H710.0 V297.2 H712.5 V297.2 H715.0 V297.2 H717.5 V297.2 H720.0 V297.2 H722.5 V297.2 H725.0 V297.2 H727.5 V297.2 H730.0 V297.2 H732.5 V297.2 H735.0 V297.2 H737.5 V297.2" fill="none" stroke="#00867f" stroke-width="2.4"/>
</g>
<line x1="703.5" y1="33.1" x2="703.5" y2="436" stroke="#7a7a7a" stroke-width="1.6" stroke-dasharray="6.6 4.74"/>
<g stroke="#111" stroke-width="2.3">
<line x1="119.6" y1="29" x2="119.6" y2="437.8"/>
<line x1="118.5" y1="436.6" x2="738.2" y2="436.6" stroke-width="2.6"/>
<line x1="113" y1="396.78" x2="120" y2="396.78"/><line x1="113" y1="356.56" x2="120" y2="356.56"/><line x1="113" y1="316.34" x2="120" y2="316.34"/><line x1="113" y1="276.12" x2="120" y2="276.12"/><line x1="113" y1="235.90" x2="120" y2="235.90"/><line x1="113" y1="195.68" x2="120" y2="195.68"/><line x1="113" y1="155.46" x2="120" y2="155.46"/><line x1="113" y1="115.24" x2="120" y2="115.24"/><line x1="113" y1="75.02" x2="120" y2="75.02"/><line x1="113" y1="34.80" x2="120" y2="34.80"/>
<line x1="192.59" y1="436" x2="192.59" y2="443"/><line x1="265.58" y1="436" x2="265.58" y2="443"/><line x1="338.57" y1="436" x2="338.57" y2="443"/><line x1="411.56" y1="436" x2="411.56" y2="443"/><line x1="484.55" y1="436" x2="484.55" y2="443"/><line x1="557.54" y1="436" x2="557.54" y2="443"/><line x1="630.53" y1="436" x2="630.53" y2="443"/><line x1="703.52" y1="436" x2="703.52" y2="443"/>
</g>
<g font-size="15" fill="#111" color="#111" stroke-width="0.35"><text x="105.6" y="402.18" text-anchor="end">10</text><text x="105.6" y="361.96" text-anchor="end">20</text><text x="105.6" y="321.74" text-anchor="end">30</text><text x="105.6" y="281.52" text-anchor="end">40</text><text x="105.6" y="241.30" text-anchor="end">50</text><text x="105.6" y="201.08" text-anchor="end">60</text><text x="105.6" y="160.86" text-anchor="end">70</text><text x="105.6" y="120.64" text-anchor="end">80</text><text x="105.6" y="80.42" text-anchor="end">90</text><text x="105.6" y="40.20" text-anchor="end">100</text><text x="119.60" y="462.5" text-anchor="middle">0</text><text x="192.59" y="462.5" text-anchor="middle">3</text><text x="265.58" y="462.5" text-anchor="middle">6</text><text x="338.57" y="462.5" text-anchor="middle">9</text><text x="411.56" y="462.5" text-anchor="middle">12</text><text x="484.55" y="462.5" text-anchor="middle">15</text><text x="557.54" y="462.5" text-anchor="middle">18</text><text x="630.53" y="462.5" text-anchor="middle">21</text><text x="703.52" y="462.5" text-anchor="middle">24</text></g>
<g stroke-width="2.9">
<line x1="131.8" y1="49.4" x2="160.9" y2="49.4" stroke="#0a6fa8"/>
<line x1="131.8" y1="70.8" x2="160.9" y2="70.8" stroke="#a51b37"/>
<line x1="131.8" y1="92.2" x2="160.9" y2="92.2" stroke="#00867f"/>
</g>
<g font-size="14" fill="#111" color="#111" stroke-width="0.12">
<text x="166.8" y="53" textLength="48.8" lengthAdjust="spacing">Normal</text>
<text x="167.2" y="74.9" textLength="74" lengthAdjust="spacing">Overweight</text>
<text x="166.8" y="96" textLength="40.8" lengthAdjust="spacing">Obese</text>
</g>
<g transform="translate(0,498.9)" font-size="24" fill="#111" color="#111" style="stroke-width:0.5px"><text x="191.75" y="0" textLength="41.41" lengthAdjust="spacingAndGlyphs">Time</text><text x="238.60" y="0" textLength="16.41" lengthAdjust="spacingAndGlyphs">to</text><text x="260.35" y="0" textLength="45.09" lengthAdjust="spacingAndGlyphs">Early</text><text x="309.75" y="0" textLength="143.32" lengthAdjust="spacingAndGlyphs">Discontinuation</text><text x="458.93" y="0" textLength="17.38" lengthAdjust="spacingAndGlyphs">of</text><text x="481.06" y="0" textLength="100.09" lengthAdjust="spacingAndGlyphs">Palbociclib</text><text x="586.67" y="0" textLength="78.50" lengthAdjust="spacingAndGlyphs">(months)</text></g>
<g transform="translate(53.6,0) rotate(-90)" font-size="24" fill="#111" color="#111" style="stroke-width:0.5px"><text x="-350.35" y="0" textLength="101.63" lengthAdjust="spacingAndGlyphs">Cumulative</text><text x="-244.73" y="0" textLength="89.08" lengthAdjust="spacingAndGlyphs">Incidence</text><text x="-149.72" y="0" textLength="30.50" lengthAdjust="spacingAndGlyphs">(%)</text></g>
<g font-size="13.5" stroke-width="0"><text x="19.2" y="527.6" fill="#111" color="#111" style="stroke-width:0.3px" textLength="69" lengthAdjust="spacing">No. at risk:</text><g fill="#1672b2" color="#1672b2" style="stroke-width:0.05px"><text x="19.3" y="548.7" textLength="47.5" lengthAdjust="spacing">Normal</text><text x="118.10" y="548.7" text-anchor="middle">1018</text><text x="191.09" y="548.7" text-anchor="middle">915</text><text x="264.08" y="548.7" text-anchor="middle">797</text><text x="337.07" y="548.7" text-anchor="middle">715</text><text x="410.06" y="548.7" text-anchor="middle">652</text><text x="483.05" y="548.7" text-anchor="middle">593</text><text x="556.04" y="548.7" text-anchor="middle">552</text><text x="629.03" y="548.7" text-anchor="middle">450</text><text x="702.02" y="548.7" text-anchor="middle">187</text></g><g fill="#ad1e3c" color="#ad1e3c" style="stroke-width:0.05px"><text x="19.3" y="569.8" textLength="74" lengthAdjust="spacing">Overweight</text><text x="118.10" y="569.8" text-anchor="middle">888</text><text x="191.09" y="569.8" text-anchor="middle">802</text><text x="264.08" y="569.8" text-anchor="middle">753</text><text x="337.07" y="569.8" text-anchor="middle">692</text><text x="410.06" y="569.8" text-anchor="middle">635</text><text x="483.05" y="569.8" text-anchor="middle">596</text><text x="556.04" y="569.8" text-anchor="middle">561</text><text x="629.03" y="569.8" text-anchor="middle">456</text><text x="702.02" y="569.8" text-anchor="middle">192</text></g><g fill="#139b9c" color="#139b9c" style="stroke-width:0.05px"><text x="19.3" y="591.8" textLength="40.5" lengthAdjust="spacing">Obese</text><text x="118.10" y="591.8" text-anchor="middle">864</text><text x="191.09" y="591.8" text-anchor="middle">783</text><text x="264.08" y="591.8" text-anchor="middle">726</text><text x="337.07" y="591.8" text-anchor="middle">684</text><text x="410.06" y="591.8" text-anchor="middle">649</text><text x="483.05" y="591.8" text-anchor="middle">623</text><text x="556.04" y="591.8" text-anchor="middle">593</text><text x="629.03" y="591.8" text-anchor="middle">491</text><text x="702.02" y="591.8" text-anchor="middle">177</text></g></g>
</svg>
</body></html>
